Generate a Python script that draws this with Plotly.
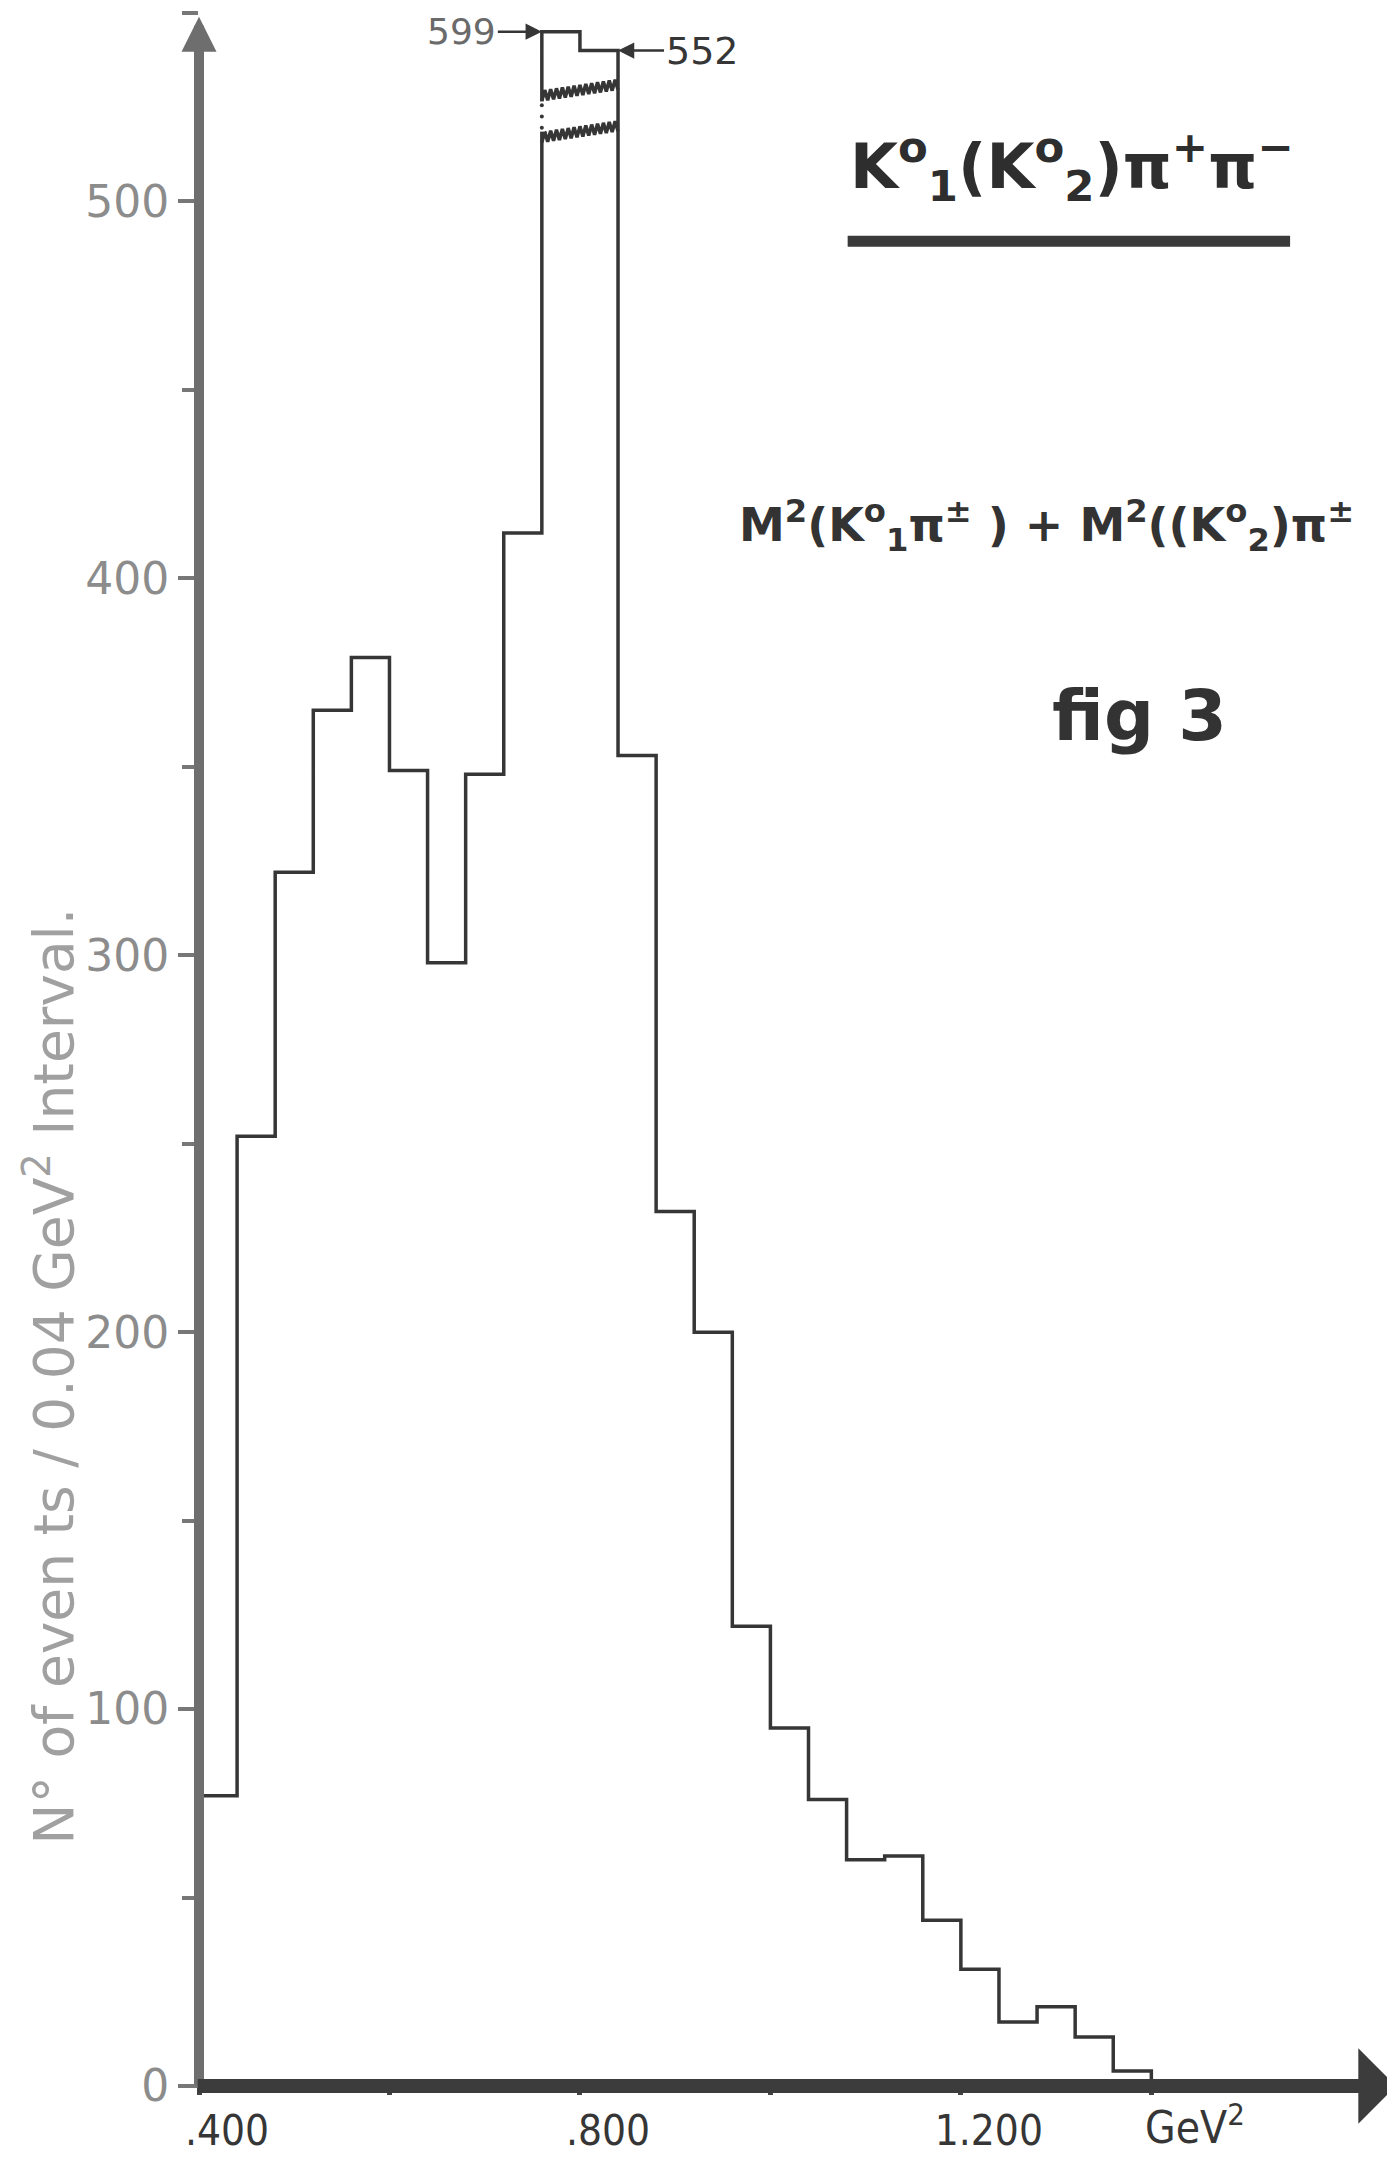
import numpy as np
import plotly.graph_objects as go

# ---------------- data ----------------
bin_low = 0.40          # GeV^2, left edge of first bin
bin_width = 0.04        # GeV^2
counts = [77, 252, 322, 365, 379, 349, 298, 348, 412, 599, 552, 353, 232,
          200, 122, 95, 76, 60, 61, 44, 31, 17, 21, 13, 4]

x_tickvals = [0.4, 0.6, 0.8, 1.0, 1.2, 1.4]
x_ticktext = [".400", "", ".800", "", "1.200", ""]
y_tickvals = [0, 100, 200, 300, 400, 500]
y_ticktext = ["0", "100", "200", "300", "400", "500"]

# broken y-axis: counts above BREAK_START are drawn compressed
BREAK_START = 520
BREAK_REF_REAL, BREAK_REF_DISP, BREAK_SLOPE = 552, 540, 5 / 47
BREAK_MARKS = [517, 528]

def disp(v):
    return v if v <= BREAK_START else BREAK_REF_DISP + (v - BREAK_REF_REAL) * BREAK_SLOPE

edges = bin_low + bin_width * np.arange(len(counts) + 1)
dcounts = [disp(c) for c in counts]

INK = "#363636"
NARROW = "Liberation Sans Narrow, DejaVu Sans Condensed, Roboto Condensed, sans-serif"

fig = go.Figure()

# histogram outline
fig.add_trace(go.Scatter(
    x=np.concatenate([[edges[0]], edges]),
    y=[0] + dcounts + [0],
    mode="lines", line=dict(color=INK, width=3.5, shape="hv"),
    hoverinfo="skip", showlegend=False))

# break marks (zig-zags) across the broken bins
broken = [i for i, c in enumerate(counts) if c > BREAK_START]
bx0, bx1 = edges[broken[0]], edges[broken[-1] + 1]
nz = 26
zx = np.linspace(bx0, bx1, nz + 1)
for lvl in BREAK_MARKS:
    zy = lvl + 1.4 * np.where(np.arange(nz + 1) % 2 == 0, -1, 1) + 3.0 * (zx - bx0) / (bx1 - bx0)
    fig.add_trace(go.Scatter(x=zx, y=zy, mode="lines",
                             line=dict(color=INK, width=3.5),
                             hoverinfo="skip", showlegend=False))
# gap in the left edge between the zig-zags, with dots
fig.add_trace(go.Scatter(x=[bx0, bx0], y=[BREAK_MARKS[0] + 1.5, BREAK_MARKS[1] - 1.5],
                         mode="lines", line=dict(color="white", width=6),
                         hoverinfo="skip", showlegend=False))
fig.add_trace(go.Scatter(x=[bx0] * 3,
                         y=np.linspace(BREAK_MARKS[0] + 2.5, BREAK_MARKS[1] - 2.5, 3),
                         mode="markers", marker=dict(color=INK, size=4),
                         hoverinfo="skip", showlegend=False))

# axes drawn as arrows
fig.add_annotation(x=bin_low, y=549, ax=bin_low, ay=0, xref="x", yref="y",
                   axref="x", ayref="y", text="", showarrow=True,
                   arrowhead=2, arrowsize=0.7, arrowwidth=10, arrowcolor="#6e6e6e")
fig.add_annotation(x=1.657, y=0, ax=bin_low - 0.003, ay=0, xref="x", yref="y",
                   axref="x", ayref="y", text="", showarrow=True,
                   arrowhead=1, arrowsize=0.9, arrowwidth=14, arrowcolor="#3c3c3c")

# labels of the broken bins
fig.add_annotation(x=edges[broken[0]], y=dcounts[broken[0]], text=str(counts[broken[0]]),
                   showarrow=True, ax=-80, ay=0, arrowhead=2, arrowsize=1.3,
                   arrowwidth=2.5, arrowcolor=INK, xanchor="center", yanchor="middle",
                   font=dict(family="DejaVu Sans", size=36, color="#6a6a6a"))
fig.add_annotation(x=edges[broken[-1] + 1], y=dcounts[broken[-1]], text=str(counts[broken[-1]]),
                   showarrow=True, ax=84, ay=0, arrowhead=2, arrowsize=1.3,
                   arrowwidth=2.5, arrowcolor=INK, xanchor="center", yanchor="middle",
                   font=dict(family="DejaVu Sans", size=38, color=INK))

# unit on x axis
fig.add_annotation(x=1.4, y=0, xref="x", yref="paper", yanchor="top", xanchor="center",
                   xshift=44, yshift=-8, showarrow=False, text="GeV<sup>2</sup>",
                   font=dict(family=NARROW, size=44, color=INK))

# y-axis title
fig.add_annotation(x=-0.124, y=0.342, xref="paper", yref="paper", textangle=-90,
                   xanchor="center", yanchor="middle", showarrow=False,
                   text="N° of even ts / 0.04 GeV<sup>2</sup> Interval.",
                   font=dict(family="DejaVu Sans", size=55, color="#a0a0a0"))

# titles
fig.add_annotation(x=0.728, y=0.925, xref="paper", yref="paper", showarrow=False,
                   xanchor="center", yanchor="middle",
                   text="<b>K<sup>o</sup><sub>1</sub>(K<sup>o</sup><sub>2</sub>)π<sup>+</sup>π<sup>−</sup></b>",
                   font=dict(family="DejaVu Sans", size=62, color="#2e2e2e"))
fig.add_shape(type="line", xref="paper", yref="paper", x0=0.541, x1=0.910, y0=0.889, y1=0.889,
              line=dict(color="#3a3a3a", width=11))
fig.add_annotation(x=0.449, y=0.752, xref="paper", yref="paper", xanchor="left",
                   yanchor="middle", showarrow=False,
                   text="<b>M<sup>2</sup>(K<sup>o</sup><sub>1</sub>π<sup>±</sup> ) + M<sup>2</sup>((K<sup>o</sup><sub>2</sub>)π<sup>±</sup></b>",
                   font=dict(family="DejaVu Sans", size=46, color="#333"))
fig.add_annotation(x=0.784, y=0.660, xref="paper", yref="paper", showarrow=False,
                   xanchor="center", yanchor="middle",
                   text="<b>fig 3</b>", font=dict(family="DejaVu Sans", size=70, color="#333"))

fig.update_layout(
    template="none",
    width=1395, height=2158,
    margin=dict(l=191, r=5, t=3, b=80),
    paper_bgcolor="white", plot_bgcolor="white",
    showlegend=False,
    xaxis=dict(range=[bin_low, 1.659], showgrid=False, zeroline=False, showline=False,
               automargin=False,
               tickmode="array", tickvals=x_tickvals, ticktext=x_ticktext,
               ticks="outside", ticklen=8, tickwidth=5, tickcolor="#444",
               ticklabelshift=28, ticklabelstandoff=0,
               tickfont=dict(family=NARROW, size=42, color=INK)),
    yaxis=dict(range=[0, 550.5], showgrid=False, zeroline=False, showline=False,
               automargin=False,
               tickmode="array", tickvals=y_tickvals, ticktext=y_ticktext,
               ticks="outside", ticklen=20, tickwidth=4, tickcolor="#777",
               ticklabelstandoff=0,
               minor=dict(dtick=50, ticks="outside", ticklen=16, tickwidth=4, tickcolor="#777"),
               tickfont=dict(family="DejaVu Sans", size=44, color="#8c8c8c")),
)

fig.write_html("out.html")
